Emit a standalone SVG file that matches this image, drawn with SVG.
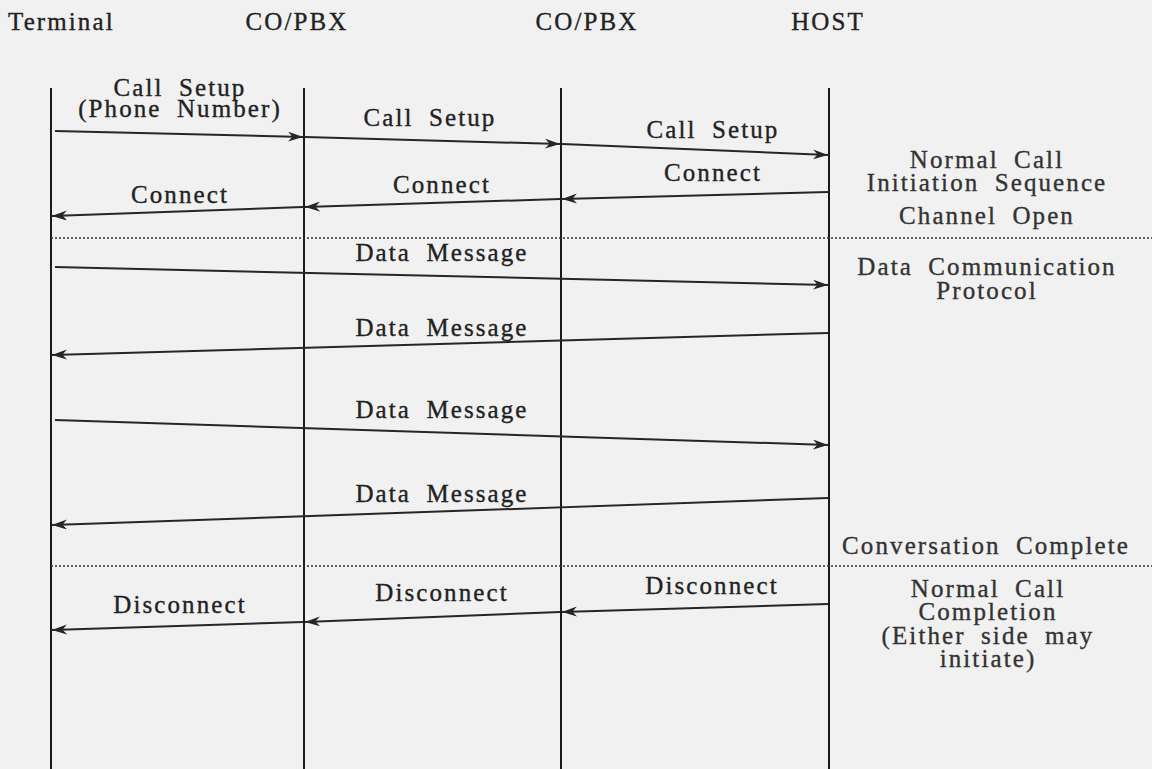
<svg xmlns="http://www.w3.org/2000/svg" width="1152" height="769" viewBox="0 0 1152 769">
<style>
text{font-family:"Liberation Serif","Times New Roman","DejaVu Serif",serif;font-size:25px;letter-spacing:2.1px;word-spacing:7px;fill:#222;stroke:#222;stroke-width:0.35px}
.c{text-anchor:middle}
.life{stroke:#1a1a1a;stroke-width:2;fill:none}
.msg{stroke:#262626;stroke-width:2;fill:none;marker-end:url(#ah)}
.dot{stroke:#333;stroke-width:1.6;stroke-dasharray:2 2;fill:none}
.note{fill:#333;stroke:#333}
</style>
<defs>
<marker id="ah" markerUnits="userSpaceOnUse" markerWidth="17" markerHeight="12" refX="15" refY="5" orient="auto" viewBox="0 0 17 12">
<path d="M0,0 L15,5 L0,10 L4.5,5 Z" fill="#262626"/>
</marker>
</defs>
<rect width="1152" height="769" fill="#f1f1f1"/>
<g id="terminal"><text x="8" y="30">Terminal</text><line class="life" x1="51" y1="88" x2="51" y2="769"/></g>
<g id="copbx1"><text class="c" x="297" y="30">CO/PBX</text><line class="life" x1="304" y1="88" x2="304" y2="769"/></g>
<g id="copbx2"><text class="c" x="587" y="30">CO/PBX</text><line class="life" x1="561" y1="88" x2="561" y2="769"/></g>
<g id="host"><text class="c" x="828" y="30">HOST</text><line class="life" x1="829" y1="88" x2="829" y2="769"/></g>
<g id="connectors">
<line class="msg" x1="55" y1="131" x2="303" y2="137"/>
<line class="msg" x1="305" y1="137" x2="560" y2="144"/>
<line class="msg" x1="562" y1="144" x2="828" y2="155"/>
<line class="msg" x1="828" y1="192" x2="562" y2="199"/>
<line class="msg" x1="560" y1="199" x2="305" y2="207"/>
<line class="msg" x1="303" y1="207" x2="52" y2="216"/>
<line class="dot" x1="51" y1="238" x2="1152" y2="238"/>
<line class="msg" x1="55" y1="267" x2="828" y2="285"/>
<line class="msg" x1="828" y1="333" x2="52" y2="355"/>
<line class="msg" x1="55" y1="420" x2="828" y2="445"/>
<line class="msg" x1="828" y1="498" x2="52" y2="525"/>
<line class="dot" x1="51" y1="566" x2="1152" y2="566"/>
<line class="msg" x1="828" y1="604" x2="562" y2="612"/>
<line class="msg" x1="560" y1="612" x2="305" y2="622"/>
<line class="msg" x1="303" y1="622" x2="52" y2="630"/>
</g>
<g id="labels">
<text class="c" x="180" y="96">Call Setup</text>
<text class="c" x="180" y="117">(Phone Number)</text>
<text class="c" x="430" y="126">Call Setup</text>
<text class="c" x="713" y="138">Call Setup</text>
<text class="c" x="713" y="181">Connect</text>
<text class="c" x="442" y="193">Connect</text>
<text class="c" x="180" y="203">Connect</text>
<text class="c" x="442" y="261">Data Message</text>
<text class="c" x="442" y="336">Data Message</text>
<text class="c" x="442" y="418">Data Message</text>
<text class="c" x="442" y="502">Data Message</text>
<text class="c" x="712" y="594">Disconnect</text>
<text class="c" x="442" y="601">Disconnect</text>
<text class="c" x="180" y="613">Disconnect</text>
</g>
<g id="notes">
<text class="c note" x="987" y="168">Normal Call</text>
<text class="c note" x="987" y="191">Initiation Sequence</text>
<text class="c note" x="987" y="224">Channel Open</text>
<text class="c note" x="987" y="275">Data Communication</text>
<text class="c note" x="987" y="299">Protocol</text>
<text class="c note" x="986" y="554">Conversation Complete</text>
<text class="c note" x="988" y="597">Normal Call</text>
<text class="c note" x="988" y="620">Completion</text>
<text class="c note" x="988" y="644">(Either side may</text>
<text class="c note" x="988" y="667">initiate)</text>
</g>
</svg>
